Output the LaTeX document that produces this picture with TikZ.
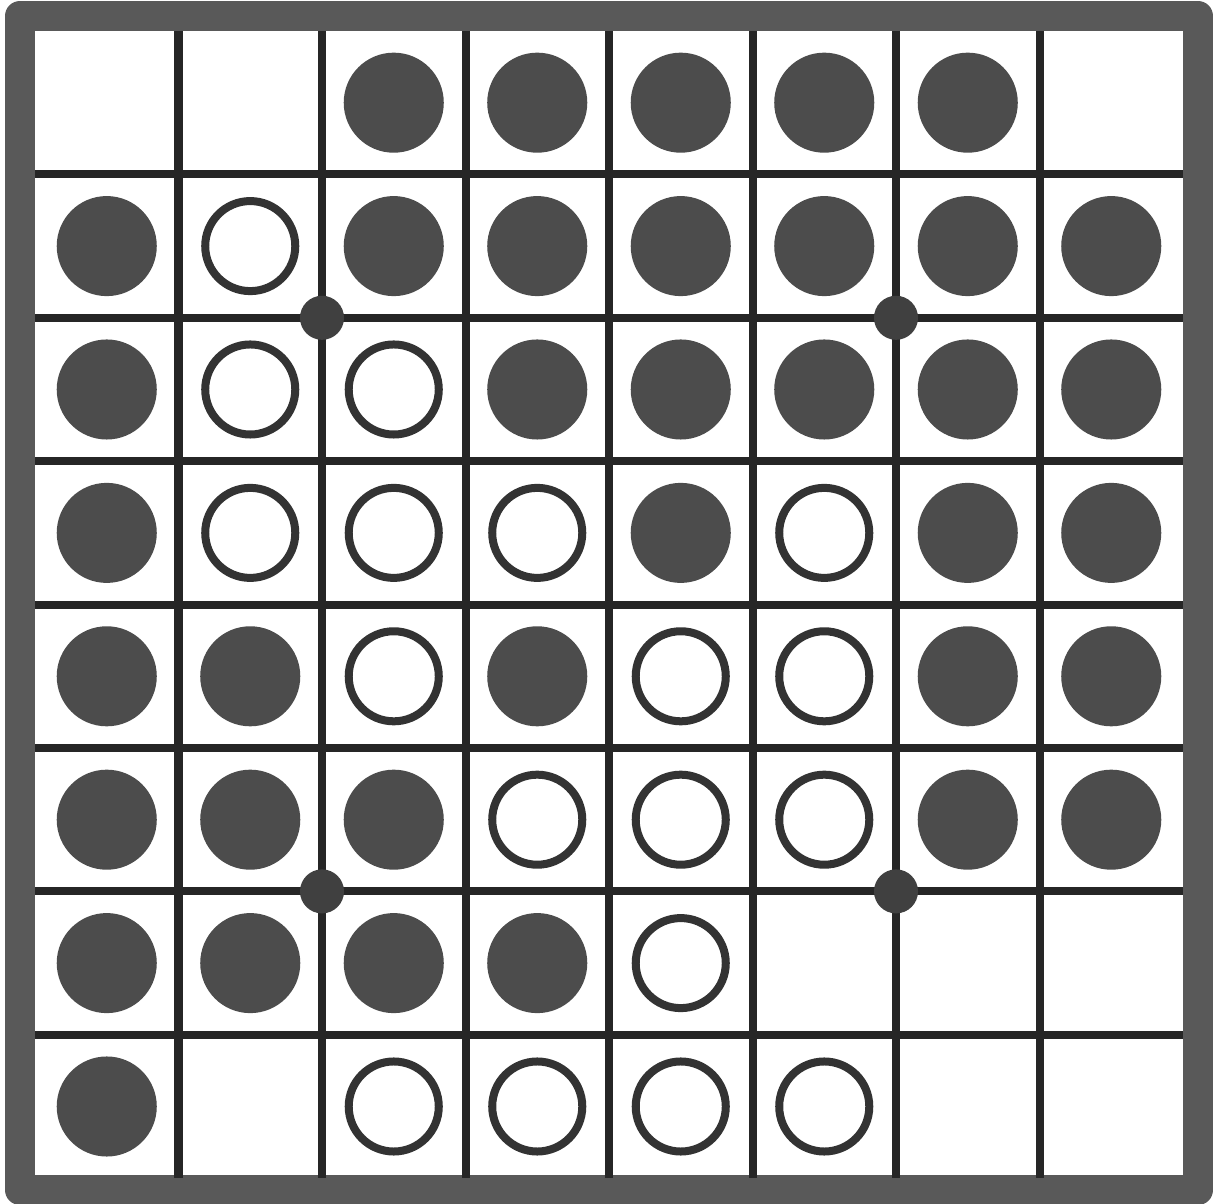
\documentclass[tikz,border=0pt]{standalone}
\tikzset{
    blackstone/.style={circle, fill=black!70, inner sep=0pt, minimum size=1cm},
    whitestone/.style={circle, draw=black!80, fill=white, line width=0.08cm, inner sep=0pt, minimum size=0.9cm},
    starpoint/.style={circle, fill=black!75, inner sep=0pt, minimum size=0.44cm},
    gridline/.style={black!85, line width=0.08cm},
    boardframe/.style={black!65, line width=0.30cm, line join=round}
}
\begin{document}
\begin{tikzpicture}[x=0.01cm, y=-0.01cm]
    \useasboundingbox (0,0) rectangle (1221,1204);
    % Rahmen
    \draw[boardframe] (20,16) rectangle (1198,1190);
    % Gitter
    \foreach \i in {1,...,7} {
        \draw[gridline] ({35+143.5*\i},31) -- ({35+143.5*\i},1178);
        \draw[gridline] (35,{31+143.4*\i}) -- (1183,{31+143.4*\i});
    }
    % Punkte
    \foreach \i/\j in {2/2, 6/2, 2/6, 6/6} {
        \node[starpoint] (dot-\i-\j) at ({35+143.5*\i},{31+143.4*\j}) {};
    }
    % Steine: 1 = schwarz, 2 = weiss
    \foreach \row [count=\r] in {
        {0,0,1,1,1,1,1,0},
        {1,2,1,1,1,1,1,1},
        {1,2,2,1,1,1,1,1},
        {1,2,2,2,1,2,1,1},
        {1,1,2,1,2,2,1,1},
        {1,1,1,2,2,2,1,1},
        {1,1,1,1,2,0,0,0},
        {1,0,2,2,2,2,0,0}} {
        \foreach \v [count=\c] in \row {
            \ifnum\v=1
                \node[blackstone] (s-\r-\c) at ({35+143.5*(\c-0.5)},{31+143.4*(\r-0.5)}) {};
            \fi
            \ifnum\v=2
                \node[whitestone] (s-\r-\c) at ({35+143.5*(\c-0.5)},{31+143.4*(\r-0.5)}) {};
            \fi
        }
    }
\end{tikzpicture}
\end{document}
